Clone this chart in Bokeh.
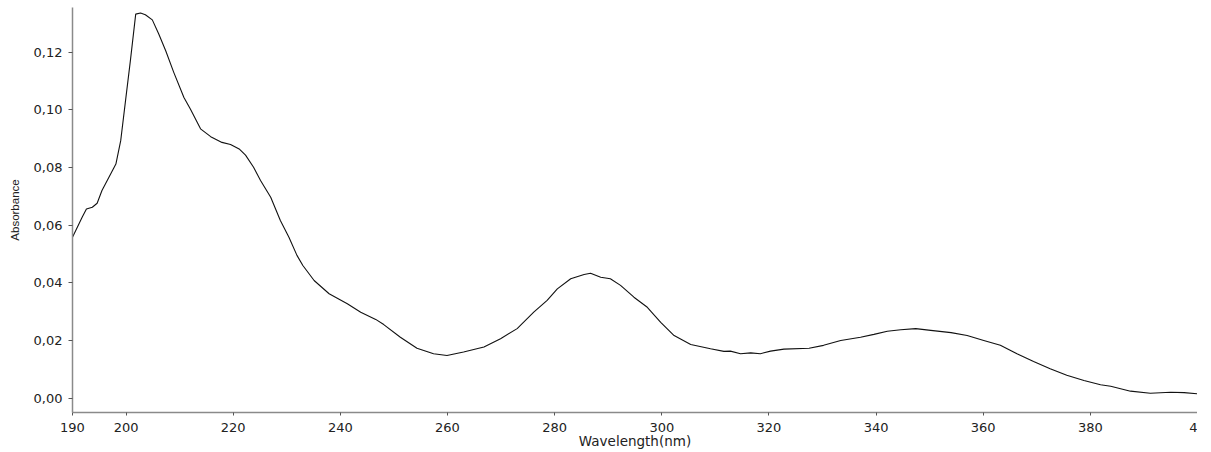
from bokeh.plotting import figure
from bokeh.models import FixedTicker, Range1d
from bokeh.embed import file_html
from bokeh.resources import INLINE

# Wavelength (nm) and absorbance
wavelength = [190.0, 191.8, 192.6, 193.7, 194.6, 195.5, 196.8, 198.1, 199.0, 199.9,
              200.8, 201.8, 202.7, 203.6, 204.9, 206.1, 207.4, 208.9, 210.8, 212.0,
              213.9, 215.8, 217.9, 219.5, 221.2, 222.3, 223.8, 225.1, 227.0, 228.8,
              230.4, 231.9, 233.0, 235.1, 237.9, 241.3, 243.8, 246.6, 248.1, 251.2,
              254.3, 257.4, 259.9, 263.0, 266.8, 269.9, 273.0, 276.1, 278.6, 280.5,
              283.0, 285.5, 286.7, 288.6, 290.4, 292.3, 294.8, 297.3, 299.8, 302.3,
              305.4, 309.1, 311.6, 312.8, 314.7, 316.6, 318.4, 320.3, 322.8, 327.5,
              330.2, 333.4, 337.1, 339.6, 342.1, 344.6, 347.4, 350.2, 354.0, 357.0,
              360.1, 363.2, 366.3, 369.4, 372.5, 375.6, 378.8, 381.9, 383.8, 387.5,
              391.2, 395.0, 397.5, 400.0]
absorbance = [0.0558, 0.0627, 0.0656, 0.0662, 0.0676, 0.0720, 0.0766, 0.0812, 0.0893, 0.1032,
              0.1170, 0.1332, 0.1336, 0.1330, 0.1312, 0.1263, 0.1205, 0.1130, 0.1043, 0.1003,
              0.0934, 0.0907, 0.0887, 0.0880, 0.0863, 0.0843, 0.0801, 0.0755, 0.0697, 0.0616,
              0.0558, 0.0495, 0.0460, 0.0408, 0.0362, 0.0327, 0.0298, 0.0273, 0.0255, 0.0211,
              0.0173, 0.0154, 0.0148, 0.0160, 0.0177, 0.0206, 0.0241, 0.0298, 0.0339, 0.0379,
              0.0414, 0.0429, 0.0433, 0.0419, 0.0414, 0.0391, 0.0350, 0.0315, 0.0263, 0.0217,
              0.0186, 0.0171, 0.0162, 0.0163, 0.0154, 0.0157, 0.0154, 0.0163, 0.0170, 0.0173,
              0.0183, 0.0200, 0.0211, 0.0221, 0.0232, 0.0237, 0.0241, 0.0235, 0.0227, 0.0217,
              0.0200, 0.0183, 0.0154, 0.0127, 0.0102, 0.0079, 0.0061, 0.0046, 0.0041, 0.0024,
              0.0017, 0.0020, 0.0019, 0.0015]

x_ticks = [190, 200, 220, 240, 260, 280, 300, 320, 340, 360, 380, 400]
# the last label is cut off at the chart's right edge in the reference: only "4" shows
x_tick_labels = ["190", "200", "220", "240", "260", "280", "300", "320", "340", "360", "380", "4"]
y_ticks = [0.0, 0.02, 0.04, 0.06, 0.08, 0.10, 0.12]
y_tick_labels = ["0,00", "0,02", "0,04", "0,06", "0,08", "0,10", "0,12"]

p = figure(width=1197, height=452, output_backend="svg", toolbar_location=None,
           x_range=Range1d(190, 400), y_range=Range1d(-0.005, 0.1355),
           min_border_left=72, min_border_right=0, min_border_top=7, min_border_bottom=40)
p.outline_line_color = None
p.background_fill_color = "white"
p.border_fill_color = "white"
p.xgrid.visible = False
p.ygrid.visible = False

p.line(wavelength, absorbance, line_color="#111111", line_width=1.1)

axis_col = "#8a8a8a"
for ax in (p.xaxis[0], p.yaxis[0]):
    ax.axis_line_color = axis_col
    ax.axis_line_width = 1.5
    ax.major_tick_line_color = "#555555"
    ax.major_tick_in = 0
    ax.minor_tick_line_color = None
    ax.major_label_text_font = "DejaVu Sans"
    ax.major_label_text_font_size = "13px"
    ax.major_label_text_color = "#222222"
    ax.axis_label_text_font_style = "normal"
    ax.axis_label_text_color = "#222222"

p.xaxis.ticker = FixedTicker(ticks=x_ticks)
p.xaxis.major_label_overrides = {t: l for t, l in zip(x_ticks, x_tick_labels)}
p.xaxis.major_tick_out = 3
p.xaxis.major_label_standoff = 7
p.xaxis.axis_label = "Wavelength(nm)"
p.xaxis.axis_label_text_font = "DejaVu Sans"
p.xaxis.axis_label_text_font_size = "13.5px"
p.xaxis.axis_label_standoff = -2

p.yaxis.ticker = FixedTicker(ticks=y_ticks)
p.yaxis.major_label_overrides = {t: l for t, l in zip(y_ticks, y_tick_labels)}
p.yaxis.major_tick_out = 4
p.yaxis.major_label_standoff = 6
p.yaxis.axis_label = "Absorbance"
p.yaxis.axis_label_text_font = "Liberation Sans"
p.yaxis.axis_label_text_font_size = "11.5px"
p.yaxis.axis_label_standoff = 10

open("out.html", "w").write(file_html(p, INLINE))
